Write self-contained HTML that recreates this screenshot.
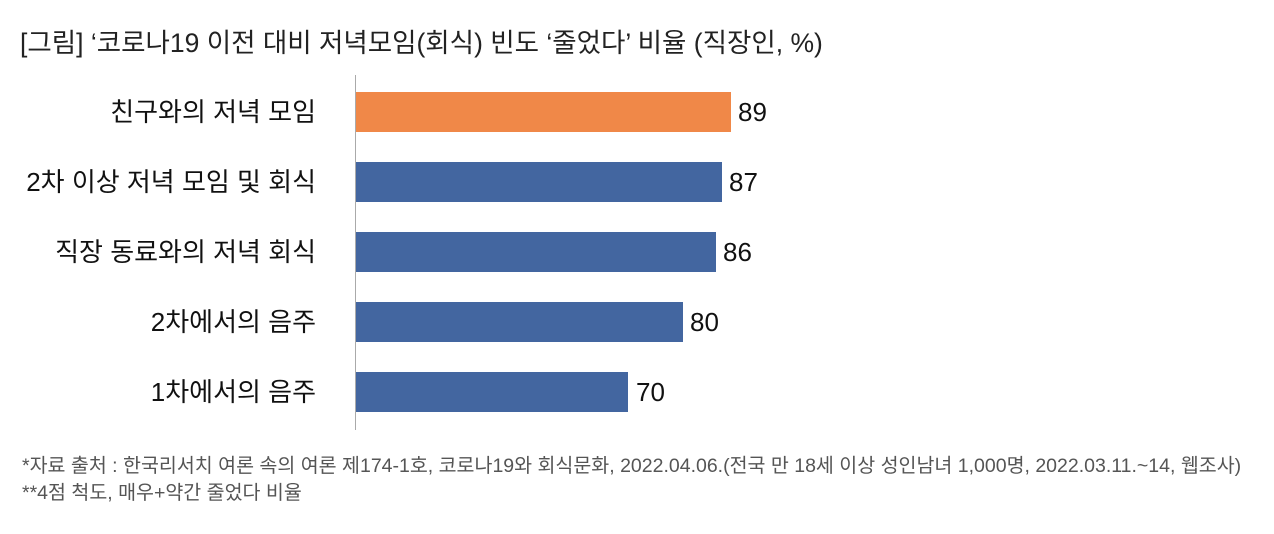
<!DOCTYPE html>
<html><head><meta charset="utf-8"><style>
body{margin:0;width:1274px;height:534px;background:#fff;font-family:"Liberation Sans","Noto Sans CJK KR",sans-serif;position:relative;overflow:hidden;color:#111}
.t{position:absolute;white-space:nowrap}
.lab{position:absolute;right:958px;font-size:26px;line-height:40px;text-align:right;white-space:nowrap}
.bar{position:absolute;left:356px;height:40px;background:#4366a0}
.v{position:absolute;font-size:26px;line-height:40px}
.f{position:absolute;left:22px;font-size:19.5px;line-height:24px;color:#555;white-space:nowrap}
</style></head><body>
<div class="t" style="left:20px;top:27px;font-size:26.5px;line-height:32px;color:#222">[그림] ‘코로나19 이전 대비 저녁모임(회식) 빈도 ‘줄었다’ 비율 (직장인, %)</div>
<div style="position:absolute;left:355px;top:75px;width:1px;height:355px;background:#aaa"></div>

<div class="lab" style="top:92px">친구와의 저녁 모임</div>
<div class="bar" style="top:92px;width:375px;background:#f08848"></div>
<div class="v" style="left:738px;top:92px">89</div>

<div class="lab" style="top:162px">2차 이상 저녁 모임 및 회식</div>
<div class="bar" style="top:162px;width:366px"></div>
<div class="v" style="left:729px;top:162px">87</div>

<div class="lab" style="top:232px">직장 동료와의 저녁 회식</div>
<div class="bar" style="top:232px;width:360px"></div>
<div class="v" style="left:723px;top:232px">86</div>

<div class="lab" style="top:302px">2차에서의 음주</div>
<div class="bar" style="top:302px;width:327px"></div>
<div class="v" style="left:690px;top:302px">80</div>

<div class="lab" style="top:372px">1차에서의 음주</div>
<div class="bar" style="top:372px;width:272px"></div>
<div class="v" style="left:636px;top:372px">70</div>

<div class="f" style="top:454px">*자료 출처 : 한국리서치 여론 속의 여론 제174-1호, 코로나19와 회식문화, 2022.04.06.(전국 만 18세 이상 성인남녀 1,000명, 2022.03.11.~14, 웹조사)</div>
<div class="f" style="top:481px">**4점 척도, 매우+약간 줄었다 비율</div>
</body></html>
